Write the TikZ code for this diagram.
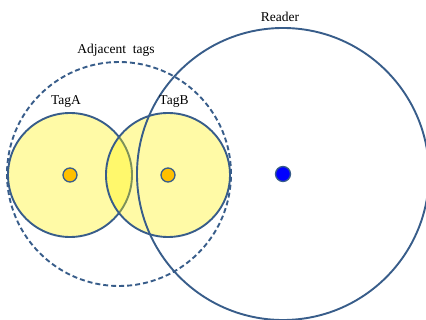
\documentclass[tikz,border=0pt]{standalone}
\usepackage{fontspec}
\setmainfont{Liberation Serif}
\usetikzlibrary{positioning}
\definecolor{rimblue}{RGB}{56,93,138}
\definecolor{tagorange}{RGB}{255,192,0}
\tikzset{rangering/.style={circle, draw=rimblue, line width=1.9pt, inner sep=0pt},
    tagring/.style={rangering, fill=yellow, fill opacity=0.35, minimum size=124pt},
    spot/.style={circle, draw=rimblue, line width=1.3pt, inner sep=0pt, minimum size=14pt},
    caption/.style={font=\fontsize{13.5}{15}\selectfont, inner sep=0pt},
    }

\begin{document}
\begin{tikzpicture}[x=1pt,y=-1pt]
	\useasboundingbox (0,0) rectangle (426,320);
	% tag ranges
	\node[tagring] (tagA) at (70,175) {};
	\node[tagring] (tagB) at (168,175) {};
	% group and reader ranges
	\node[rangering, dashed, dash pattern=on 5pt off 3pt, minimum size=224pt] (adjacent) at (119,174) {};
	\node[rangering, minimum size=292pt] (reader) at (283,174) {};
	% antennas
	\node[spot, fill=tagorange] (antA) at (tagA) {};
	\node[spot, fill=tagorange] (antB) at (tagB) {};
	\node[spot, fill=blue, minimum size=15pt] (antR) at (reader) {};
	% labels
	\node[caption, above=4pt of tagA, xshift=-4pt] (labA) {TagA};
	\node[caption, above=4pt of tagB, xshift=6pt] (labB) {TagB};
	\node[caption, above=4pt of adjacent, xshift=-3pt] (labAdj) {Adjacent\ \ tags};
	\node[caption, above=5pt of reader, xshift=-3pt] (labR) {Reader};
\end{tikzpicture}
\end{document}
